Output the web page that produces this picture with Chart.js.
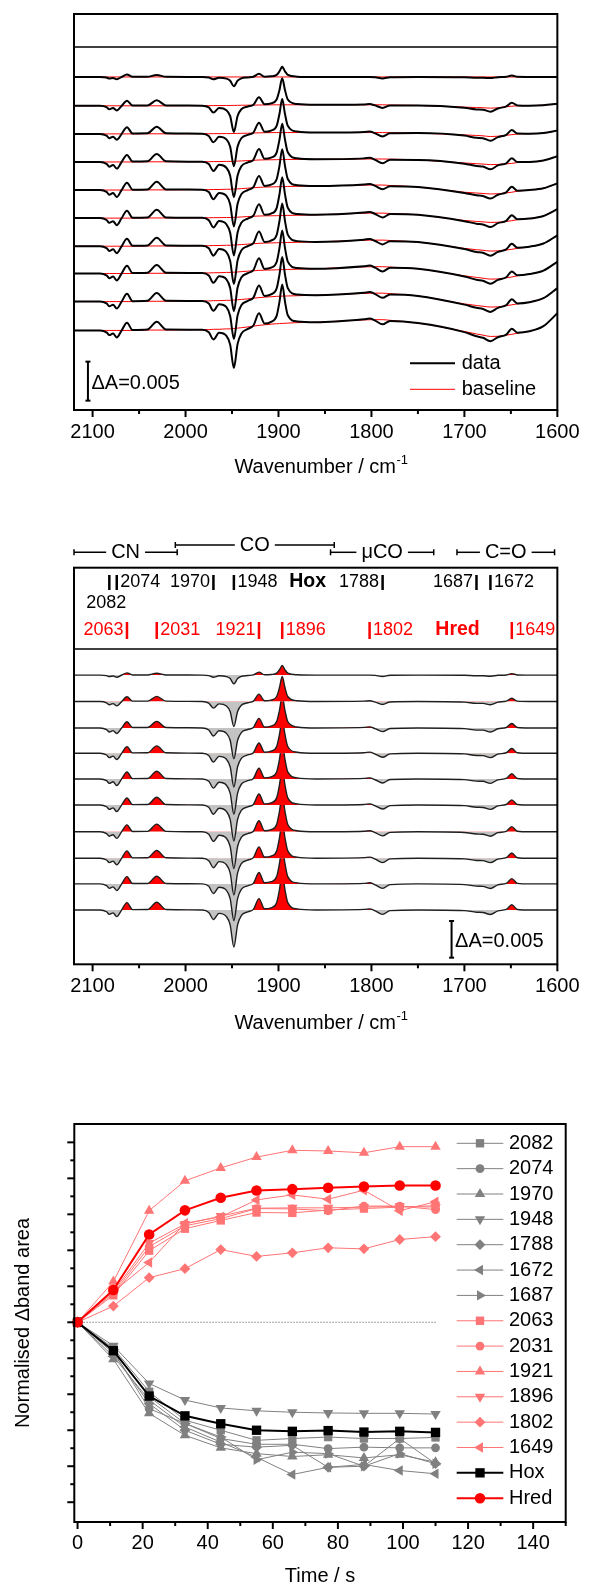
<!DOCTYPE html>
<html>
<head>
<meta charset="utf-8">
<script src="https://cdn.jsdelivr.net/npm/chart.js@4.4.1/dist/chart.umd.min.js"></script>
<style>
  html, body { margin: 0; padding: 0; background: #fff; overflow: hidden; }
  #wrap { position: relative; width: 590px; height: 1588px; }
  canvas { position: absolute; left: 0; }
</style>
</head>
<body>
<div id="wrap">
  <canvas id="cTop" width="590" height="490" style="top:0px"></canvas>
  <canvas id="cMid" width="590" height="540" style="top:500px"></canvas>
  <canvas id="cTime" width="590" height="498" style="top:1090px"></canvas>
</div>
<script>
// ---- Spectra data (wavenumber grid in cm-1, dA in mOD) ----
const wn = [2120, 2092, 2085, 2082, 2078, 2074, 2069, 2063, 2057, 2041, 2031, 2021,
  1982, 1975, 1970, 1964, 1956, 1952, 1948, 1944, 1940, 1933, 1927, 1921, 1915,
  1908, 1902, 1899, 1896, 1893, 1890, 1880, 1860,
  1808, 1802, 1796, 1788, 1780, 1750,
  1700, 1687, 1680, 1672, 1664, 1655, 1649, 1643, 1630, 1615, 1600];

// baseline-corrected difference spectra (middle panel), one per time point
const corr1 = [0, 0, -0.08, -0.2, -0.13, -0.3, -0.02, 0.3, 0.02, 0.02, 0.25, 0.02,
  0, -0.08, -0.3, -0.1, -0.21, -0.48, -1.2, -0.48, -0.18, -0.06, 0.02, 0.4, 0.04,
  0.08, 0.26, 0.72, 1.3, 0.72, 0.26, 0.04, 0,
  0, 0, -0.04, -0.2, -0.03, 0,
  -0.03, -0.1, -0.1, -0.15, -0.03, 0.02, 0.2, 0.02, 0, 0, 0];
const corr2 = [0, 0, -0.18, -0.45, -0.29, -0.6, -0.05, 0.65, 0.05, 0.05, 0.7, 0.05,
  0, -0.22, -0.9, -0.32, -0.6, -1.36, -3.4, -1.36, -0.51, -0.17, 0.05, 1.0, 0.1,
  0.2, 0.68, 1.87, 3.4, 1.87, 0.68, 0.1, 0,
  0.05, 0.1, -0.08, -0.4, -0.06, 0,
  -0.08, -0.25, -0.25, -0.45, -0.09, 0.05, 0.45, 0.05, 0, 0, 0];
const corr3 = [0, 0, -0.22, -0.55, -0.36, -0.75, -0.05, 0.85, 0.05, 0.06, 0.9, 0.06,
  0, -0.28, -1.1, -0.39, -0.74, -1.68, -4.2, -1.68, -0.63, -0.21, 0.06, 1.3, 0.13,
  0.26, 0.86, 2.37, 4.3, 2.37, 0.86, 0.13, 0,
  0.08, 0.15, -0.1, -0.5, -0.08, 0,
  -0.09, -0.3, -0.3, -0.55, -0.11, 0.06, 0.6, 0.06, 0, 0, 0];
const corr4 = [0, 0, -0.24, -0.6, -0.39, -0.85, -0.05, 0.9, 0.05, 0.06, 1.0, 0.06,
  0, -0.3, -1.2, -0.42, -0.81, -1.84, -4.6, -1.84, -0.69, -0.23, 0.07, 1.4, 0.14,
  0.28, 0.92, 2.53, 4.6, 2.53, 0.92, 0.14, 0,
  0.08, 0.15, -0.11, -0.55, -0.08, 0,
  -0.09, -0.3, -0.32, -0.6, -0.12, 0.07, 0.65, 0.07, 0, 0, 0];
const corr5 = [0, 0, -0.24, -0.6, -0.39, -0.9, -0.05, 0.95, 0.05, 0.06, 1.05, 0.06,
  0, -0.31, -1.25, -0.44, -0.85, -1.92, -4.8, -1.92, -0.72, -0.24, 0.07, 1.45, 0.15,
  0.29, 0.96, 2.64, 4.8, 2.64, 0.96, 0.14, 0,
  0.08, 0.15, -0.11, -0.55, -0.08, 0,
  -0.09, -0.3, -0.32, -0.6, -0.12, 0.07, 0.7, 0.07, 0, 0, 0];
const corr6 = [0, 0, -0.24, -0.6, -0.39, -0.9, -0.05, 0.95, 0.05, 0.06, 1.05, 0.06,
  0, -0.31, -1.25, -0.44, -0.87, -1.96, -4.9, -1.96, -0.74, -0.25, 0.08, 1.5, 0.15,
  0.29, 0.98, 2.7, 4.9, 2.7, 0.98, 0.15, 0,
  0.08, 0.15, -0.11, -0.55, -0.08, 0,
  -0.09, -0.3, -0.33, -0.6, -0.12, 0.07, 0.7, 0.07, 0, 0, 0];
const corr7 = [0, 0, -0.24, -0.6, -0.4, -0.9, -0.05, 0.95, 0.05, 0.06, 1.05, 0.06,
  0, -0.33, -1.3, -0.46, -0.88, -2.0, -5.0, -2.0, -0.75, -0.25, 0.08, 1.5, 0.15,
  0.3, 1.0, 2.75, 5.0, 2.75, 1.0, 0.15, 0,
  0.08, 0.15, -0.11, -0.55, -0.08, 0,
  -0.09, -0.3, -0.33, -0.6, -0.12, 0.07, 0.7, 0.07, 0, 0, 0];
const corr8 = [0, 0, -0.24, -0.6, -0.4, -0.9, -0.05, 1.0, 0.05, 0.06, 1.05, 0.06,
  0, -0.33, -1.3, -0.46, -0.88, -2.0, -5.0, -2.0, -0.75, -0.25, 0.08, 1.55, 0.16,
  0.3, 1.0, 2.75, 5.0, 2.75, 1.0, 0.15, 0,
  0.08, 0.15, -0.12, -0.6, -0.09, 0,
  -0.09, -0.3, -0.33, -0.6, -0.12, 0.07, 0.72, 0.07, 0, 0, 0];
const corr9 = [0, 0, -0.24, -0.6, -0.4, -0.9, -0.05, 1.0, 0.05, 0.06, 1.05, 0.06,
  0, -0.33, -1.3, -0.46, -0.88, -2.0, -5.0, -2.0, -0.75, -0.25, 0.08, 1.55, 0.16,
  0.3, 1.0, 2.75, 5.0, 2.75, 1.0, 0.15, 0,
  0.08, 0.15, -0.12, -0.6, -0.09, 0,
  -0.09, -0.3, -0.34, -0.62, -0.12, 0.07, 0.72, 0.07, 0, 0, 0];
const corr10 = [0, 0, -0.24, -0.6, -0.4, -0.9, -0.05, 1.0, 0.05, 0.06, 1.05, 0.06,
  0, -0.33, -1.3, -0.46, -0.9, -2.02, -5.05, -2.02, -0.76, -0.25, 0.08, 1.55, 0.16,
  0.3, 1.0, 2.75, 5.0, 2.75, 1.0, 0.15, 0,
  0.08, 0.15, -0.12, -0.6, -0.09, 0,
  -0.09, -0.3, -0.34, -0.62, -0.12, 0.07, 0.72, 0.07, 0, 0, 0];

// fitted baselines of the raw spectra (top panel, red)
const base1 = [0, 0, 0, 0, 0, 0, 0, 0, 0, 0, 0, 0,
  0, 0, 0, 0, 0, 0, 0, 0, 0, 0, 0, 0, 0,
  0, 0, 0, 0, 0, 0, 0, 0,
  0, 0, 0, 0, 0, 0,
  0, 0, 0, 0, 0, 0, 0, 0, 0, 0, 0];
const base2 = [0, 0, 0, 0, 0, 0, 0, 0, 0, 0, 0, 0,
  0.02, 0.02, 0.03, 0.03, 0.04, 0.04, 0.05, 0.06, 0.07, 0.08, 0.09, 0.1, 0.11,
  0.12, 0.13, 0.13, 0.13, 0.13, 0.13, 0.13, 0.13,
  0.13, 0.13, 0.13, 0.13, 0.1, 0.05,
  -0.17, -0.22, -0.25, -0.3, -0.25, -0.12, -0.05, 0, 0.02, 0.08, 0.26];
const base3 = [0, 0, 0, 0, 0, 0, 0, 0, 0, 0.01, 0.01, 0.01,
  0.02, 0.02, 0.03, 0.03, 0.04, 0.04, 0.05, 0.06, 0.07, 0.09, 0.11, 0.13, 0.15,
  0.16, 0.17, 0.17, 0.17, 0.17, 0.17, 0.17, 0.17,
  0.17, 0.17, 0.17, 0.17, 0.15, 0.1,
  -0.13, -0.2, -0.25, -0.34, -0.3, -0.18, -0.1, -0.02, 0.02, 0.1, 0.43];
const base4 = [0, 0, 0, 0, 0, 0, 0, 0, 0, 0.02, 0.02, 0.02,
  0.03, 0.03, 0.05, 0.05, 0.07, 0.07, 0.09, 0.11, 0.13, 0.18, 0.21, 0.25, 0.27,
  0.28, 0.29, 0.3, 0.31, 0.31, 0.32, 0.33, 0.35,
  0.38, 0.38, 0.38, 0.38, 0.36, 0.26,
  -0.13, -0.22, -0.27, -0.34, -0.32, -0.24, -0.18, -0.08, 0, 0.18, 0.73];
const base5 = [0, 0, 0, 0, 0, 0, 0, 0, 0, 0.02, 0.02, 0.02,
  0.05, 0.05, 0.07, 0.07, 0.1, 0.1, 0.12, 0.15, 0.18, 0.24, 0.3, 0.35, 0.38,
  0.4, 0.42, 0.43, 0.44, 0.45, 0.46, 0.48, 0.52,
  0.63, 0.64, 0.64, 0.64, 0.58, 0.4,
  -0.28, -0.38, -0.44, -0.5, -0.48, -0.36, -0.28, -0.15, 0, 0.22, 0.85];
const base6 = [0, 0, 0, 0, 0, 0, 0, 0, 0, 0.02, 0.02, 0.02,
  0.04, 0.04, 0.06, 0.06, 0.08, 0.08, 0.1, 0.12, 0.15, 0.2, 0.24, 0.27, 0.29,
  0.3, 0.31, 0.32, 0.33, 0.34, 0.35, 0.37, 0.42,
  0.63, 0.64, 0.64, 0.64, 0.6, 0.43,
  -0.3, -0.42, -0.48, -0.55, -0.53, -0.42, -0.33, -0.2, -0.05, 0.28, 1.15];
const base7 = [0, 0, 0, 0, 0, 0, 0, 0, 0, 0.03, 0.03, 0.03,
  0.06, 0.06, 0.09, 0.09, 0.12, 0.12, 0.15, 0.18, 0.21, 0.27, 0.32, 0.37, 0.4,
  0.42, 0.44, 0.45, 0.46, 0.47, 0.48, 0.5, 0.55,
  0.76, 0.77, 0.78, 0.78, 0.73, 0.53,
  -0.28, -0.45, -0.52, -0.62, -0.6, -0.48, -0.4, -0.27, -0.06, 0.34, 1.4];
const base8 = [0, 0, 0, 0, 0, 0, 0, 0, 0, 0.03, 0.03, 0.03,
  0.07, 0.07, 0.1, 0.1, 0.14, 0.14, 0.17, 0.2, 0.24, 0.3, 0.35, 0.4, 0.43,
  0.45, 0.47, 0.48, 0.5, 0.51, 0.52, 0.55, 0.6,
  0.85, 0.86, 0.87, 0.87, 0.82, 0.6,
  -0.3, -0.5, -0.6, -0.72, -0.7, -0.55, -0.45, -0.3, -0.07, 0.37, 1.5];
const base9 = [0, 0, 0, 0, 0, 0, 0, 0, 0, 0.04, 0.04, 0.04,
  0.08, 0.08, 0.12, 0.12, 0.16, 0.16, 0.2, 0.23, 0.27, 0.35, 0.43, 0.51, 0.56,
  0.62, 0.67, 0.68, 0.7, 0.71, 0.72, 0.75, 0.82,
  1.05, 1.07, 1.08, 1.08, 1.01, 0.73,
  -0.3, -0.5, -0.6, -0.7, -0.68, -0.52, -0.42, -0.3, -0.08, 0.43, 1.72];
const base10 = [0, 0, 0, 0, 0, 0, 0, 0, 0, 0.05, 0.05, 0.05,
  0.1, 0.1, 0.15, 0.15, 0.2, 0.2, 0.25, 0.3, 0.35, 0.45, 0.55, 0.65, 0.72,
  0.8, 0.86, 0.88, 0.9, 0.92, 0.94, 1.0, 1.05,
  1.35, 1.37, 1.38, 1.38, 1.3, 0.94,
  -0.13, -0.45, -0.6, -0.77, -0.75, -0.6, -0.5, -0.35, -0.1, 0.55, 2.2];

const corrSpectra = [corr1, corr2, corr3, corr4, corr5, corr6, corr7, corr8, corr9, corr10];
const baselines = [base1, base2, base3, base4, base5, base6, base7, base8, base9, base10];
// vertical stacking of the traces
const topOffsets = [42.7, 39.0, 35.4, 31.8, 28.2, 24.6, 21.0, 17.5, 13.9, 10.2];
const midOffsets = [39.4, 35.8, 32.2, 28.75, 25.25, 21.7, 18.05, 14.45, 10.95, 7.4];

const wnMajor = [2100, 2000, 1900, 1800, 1700, 1600];
const wnMinor = [2050, 1950, 1850, 1750, 1650];

// band assignments
const hoxBands = [2082, 2074, 1970, 1948, 1788, 1687, 1672];
const hredBands = [2063, 2031, 1921, 1896, 1802, 1649];
const groupNames = ['CN', 'CO', 'μCO', 'C=O'];
const groupFrom = [2120, 2011, 1844, 1708];
const groupTo = [2009, 1840, 1733, 1603];

// ---- Kinetics data ----
const timeS = [0, 11, 22, 33, 44, 55, 66, 77, 88, 99, 110];
const area2082 = [0, -0.72, -1.93, -2.72, -3.0, -3.28, -3.23, -3.19, -3.23, -3.23, -3.2];
const area2074 = [0, -0.81, -2.40, -2.81, -3.23, -3.39, -3.39, -3.51, -3.47, -3.49, -3.49];
const area1970 = [0, -1.03, -2.53, -3.14, -3.49, -3.65, -3.73, -3.68, -3.77, -3.68, -3.89];
const area1948 = [0, -0.65, -1.70, -2.16, -2.38, -2.46, -2.50, -2.52, -2.53, -2.53, -2.55];
const area1788 = [0, -0.86, -2.26, -3.0, -3.39, -3.47, -3.42, -4.03, -4.0, -3.23, -3.93];
const area1672 = [0, -0.95, -2.16, -2.91, -3.33, -3.75, -4.23, -4.03, -3.95, -4.12, -4.21];
const area1687 = [0, -0.76, -2.07, -2.81, -3.19, -3.82, -3.61, -3.65, -4.0, -3.65, -3.93];
const area2063 = [0, 0.75, 1.99, 2.6, 2.83, 3.05, 3.04, 3.12, 3.16, 3.2, 3.24];
const area2031 = [0, 0.8, 2.1, 2.68, 2.88, 3.16, 3.15, 3.1, 3.23, 3.23, 3.13];
const area1921 = [0, 1.13, 3.10, 3.93, 4.29, 4.59, 4.78, 4.76, 4.71, 4.88, 4.88];
const area1896 = [0, 0.85, 2.2, 2.73, 2.95, 3.17, 3.18, 3.18, 3.2, 3.22, 3.2];
const area1802 = [0, 0.45, 1.24, 1.49, 2.02, 1.83, 1.93, 2.07, 2.04, 2.30, 2.38];
const area1649 = [0, 0.85, 1.66, 2.75, 2.93, 3.40, 3.54, 3.42, 3.67, 3.10, 3.35];
const areaHox = [0, -0.79, -2.05, -2.60, -2.82, -3.00, -3.03, -3.01, -3.05, -3.03, -3.06];
const areaHred = [0, 0.90, 2.44, 3.11, 3.46, 3.66, 3.70, 3.74, 3.77, 3.80, 3.80];

const seriesLabels = ['2082', '2074', '1970', '1948', '1788', '1672', '1687',
  '2063', '2031', '1921', '1896', '1802', '1649', 'Hox', 'Hred'];
const seriesValues = [area2082, area2074, area1970, area1948, area1788, area1672, area1687,
  area2063, area2031, area1921, area1896, area1802, area1649, areaHox, areaHred];
const timeMajor = [0, 20, 40, 60, 80, 100, 120, 140];
const timeMinor = [10, 30, 50, 70, 90, 110, 130, 150];
const areaMajor = [-5, -4, -3, -2, -1, 0, 1, 2, 3, 4, 5];
const areaMinor = [-4.5, -3.5, -2.5, -1.5, -0.5, 0.5, 1.5, 2.5, 3.5, 4.5];

// ---- styles ----
const FONT = "'Liberation Sans', Arial, sans-serif";
const GREY = '#808080';
const PINK = '#ff7474';
const seriesColor = [GREY, GREY, GREY, GREY, GREY, GREY, GREY,
  PINK, PINK, PINK, PINK, PINK, PINK, '#000000', '#ff0000'];
const seriesShape = ['rect', 'circle', 'triangle', 'triangle', 'rectRot', 'triangle', 'triangle',
  'rect', 'circle', 'triangle', 'triangle', 'rectRot', 'triangle', 'rect', 'circle'];
const seriesRot = [0, 0, 0, 180, 0, 270, 90, 0, 0, 0, 180, 0, 270, 0, 0];
const seriesOrder = [1, 1, 1, 1, 1, 1, 1, 1, 1, 1, 1, 1, 1, -1, -2];
const shapeRadius = { rect: 5.9, circle: 4.4, triangle: 6.0, rectRot: 5.4 };

Chart.defaults.font.family = FONT;
Chart.defaults.color = '#000';

function seg(ctx, x1, y1, x2, y2) {
  ctx.beginPath(); ctx.moveTo(x1, y1); ctx.lineTo(x2, y2); ctx.stroke();
}

function frameTicks(chart, xMaj, xMin, innerVal) {
  const { ctx, chartArea: a, scales } = chart;
  ctx.save();
  ctx.strokeStyle = '#000';
  ctx.lineWidth = 2;
  ctx.strokeRect(a.left, a.top, a.right - a.left, a.bottom - a.top);
  xMaj.forEach(v => { const p = scales.x.getPixelForValue(v); seg(ctx, p, a.bottom, p, a.bottom + 7); });
  xMin.forEach(v => { const p = scales.x.getPixelForValue(v); seg(ctx, p, a.bottom, p, a.bottom + 4); });
  if (innerVal != null) {
    ctx.lineWidth = 1.5;
    const py = scales.y.getPixelForValue(innerVal);
    seg(ctx, a.left, py, a.right, py);
  }
  ctx.restore();
}

function text(ctx, str, x, y, size, align, color, bold) {
  ctx.font = (bold ? 'bold ' : '') + size + 'px ' + FONT;
  ctx.fillStyle = color || '#000';
  ctx.textAlign = align || 'left';
  ctx.textBaseline = 'middle';
  ctx.fillText(str, x, y);
}

function supTitle(ctx, cx, cy, main, sup) {
  ctx.font = '20px ' + FONT;
  const w1 = ctx.measureText(main).width;
  ctx.font = '13px ' + FONT;
  const w2 = ctx.measureText(sup).width;
  const x0 = cx - (w1 + w2) / 2;
  text(ctx, main, x0, cy, 20, 'left');
  text(ctx, sup, x0 + w1 + 0.5, cy - 7, 13, 'left');
}

function scaleBar(chart, wnPos, v0, v1, label) {
  const { ctx, scales } = chart;
  const x = scales.x.getPixelForValue(wnPos);
  const y0 = scales.y.getPixelForValue(v0), y1 = scales.y.getPixelForValue(v1);
  ctx.save();
  ctx.strokeStyle = '#000'; ctx.lineWidth = 2;
  seg(ctx, x, y0, x, y1);
  seg(ctx, x - 2.5, y0, x + 2.5, y0);
  seg(ctx, x - 2.5, y1, x + 2.5, y1);
  text(ctx, label, x + 3.5, (y0 + y1) / 2 + 2.5, 20, 'left');
  ctx.restore();
}

function spectrum(vals, off, extra) {
  return wn.map((w, i) => ({ x: w, y: off + vals[i] + (extra ? extra[i] : 0) }));
}

function xAxis(min, max, reverse, ticksList, height, pad) {
  return {
    type: 'linear', min, max, reverse,
    afterBuildTicks: s => { s.ticks = ticksList.map(v => ({ value: v })); },
    afterFit: s => { s.height = height; },
    grid: { display: false, drawTicks: false },
    border: { display: false },
    ticks: { font: { size: 20, family: FONT }, color: '#000', padding: pad,
      autoSkip: false, maxRotation: 0, callback: v => String(v) }
  };
}

const baseOpts = {
  responsive: false, animation: false, devicePixelRatio: 1, events: [],
  plugins: { legend: { display: false }, tooltip: { enabled: false } }
};

// ---------------- Top panel: raw spectra with baselines ----------------
const topSets = [];
baselines.forEach((b, i) => {
  topSets.push({ data: spectrum(b, topOffsets[i]), borderColor: '#ff0000', borderWidth: 1,
    pointRadius: 0, cubicInterpolationMode: 'monotone', order: 1 });
  topSets.push({ data: spectrum(corrSpectra[i], topOffsets[i], b), borderColor: '#000',
    borderWidth: 2, pointRadius: 0, cubicInterpolationMode: 'monotone', order: 0 });
});

new Chart(document.getElementById('cTop'), {
  type: 'line',
  data: { datasets: topSets },
  options: Object.assign({}, baseOpts, {
    layout: { padding: { left: 74, right: 24, top: 14, bottom: 0 } },
    scales: { x: xAxis(1600, 2120, true, wnMajor, 80, 10.4), y: { display: false, min: 0, max: 50.77 } }
  }),
  plugins: [{
    id: 'decorTop',
    afterDraw(chart) {
      const ctx = chart.ctx;
      frameTicks(chart, wnMajor, wnMinor, 46.54);
      scaleBar(chart, 2105, 1.2, 6.2, 'ΔA=0.005');
      ctx.save();
      ctx.strokeStyle = '#000'; ctx.lineWidth = 2; seg(ctx, 410, 363.3, 455, 363.3);
      ctx.strokeStyle = '#ff0000'; ctx.lineWidth = 1; seg(ctx, 410, 389.3, 455, 389.3);
      text(ctx, 'data', 461.7, 363.3, 20);
      text(ctx, 'baseline', 461.7, 389.3, 20);
      supTitle(ctx, 321, 467, 'Wavenumber / cm', '-1');
      ctx.restore();
    }
  }]
});

// ---------------- Middle panel: baseline-corrected spectra ----------------
const midSets = corrSpectra.map((c, i) => ({
  data: spectrum(c, midOffsets[i]), borderColor: '#1e1e1e', borderWidth: 1.4, pointRadius: 0,
  cubicInterpolationMode: 'monotone',
  fill: { target: { value: midOffsets[i] }, above: '#ff0000', below: '#c3c3c3' }
}));

new Chart(document.getElementById('cMid'), {
  type: 'line',
  data: { datasets: midSets },
  options: Object.assign({}, baseOpts, {
    layout: { padding: { left: 74, right: 24, top: 67.7, bottom: 0 } },
    scales: { x: xAxis(1600, 2120, true, wnMajor, 75.7, 10.4), y: { display: false, min: 0, max: 54.03 } }
  }),
  plugins: [{
    id: 'decorMid',
    afterDraw(chart) {
      const { ctx, scales } = chart;
      const X = v => scales.x.getPixelForValue(v);
      frameTicks(chart, wnMajor, wnMinor, 42.96);
      scaleBar(chart, 1713.8, 0.9, 5.9, 'ΔA=0.005');
      ctx.save();
      ctx.strokeStyle = '#000';
      // group brackets
      const groupY = [52.3, 45, 52.3, 52.3];
      groupNames.forEach((g, i) => {
        const x1 = X(groupFrom[i]), x2 = X(groupTo[i]), y = groupY[i];
        const cx = (x1 + x2) / 2;
        ctx.font = '20px ' + FONT;
        const w = ctx.measureText(g).width;
        ctx.lineWidth = 1.5;
        seg(ctx, x1, y, cx - w / 2 - 5, y);
        seg(ctx, cx + w / 2 + 5, y, x2, y);
        seg(ctx, x1, y - 3, x1, y + 3);
        seg(ctx, x2, y - 3, x2, y + 3);
        text(ctx, g, cx, y, 20, 'center');
      });
      // Hox markers
      const hoxSide = ['below', 'right', 'left', 'right', 'left', 'left', 'right'];
      ctx.lineWidth = 2.5;
      hoxBands.forEach((b, i) => {
        const x = X(b);
        ctx.strokeStyle = '#000';
        seg(ctx, x, 75, x, 90);
        if (hoxSide[i] === 'right') text(ctx, String(b), x + 3.5, 82, 18, 'left');
        else if (hoxSide[i] === 'left') text(ctx, String(b), x - 3.5, 82, 18, 'right');
        else text(ctx, String(b), x - 3, 103.3, 18, 'center');
      });
      text(ctx, 'Hox', X(1868.7), 82, 19.5, 'center', '#000', true);
      // Hred markers
      const hredSide = ['left', 'right', 'left', 'right', 'right', 'right'];
      hredBands.forEach((b, i) => {
        const x = X(b);
        ctx.strokeStyle = '#ff0000';
        seg(ctx, x, 122, x, 139);
        if (hredSide[i] === 'right') text(ctx, String(b), x + 3.5, 130, 18, 'left', '#ff0000');
        else text(ctx, String(b), x - 3.5, 130, 18, 'right', '#ff0000');
      });
      text(ctx, 'Hred', X(1707.4), 130, 19.5, 'center', '#ff0000', true);
      supTitle(ctx, 321, 523, 'Wavenumber / cm', '-1');
      ctx.restore();
    }
  }]
});

// ---------------- Bottom panel: normalised band areas vs time ----------------
const timeSets = seriesValues.map((vals, i) => {
  const isMain = i >= 13;
  const r = isMain ? (seriesShape[i] === 'rect' ? 6.6 : 5.3) : shapeRadius[seriesShape[i]];
  return {
    label: seriesLabels[i],
    data: timeS.map((t, k) => ({ x: t, y: vals[k] })),
    borderColor: seriesColor[i], backgroundColor: seriesColor[i],
    borderWidth: isMain ? 2 : 1,
    pointStyle: seriesShape[i], rotation: seriesRot[i],
    pointRadius: r, pointBorderWidth: 0, pointBackgroundColor: seriesColor[i],
    clip: false, order: seriesOrder[i]
  };
});
timeSets.push({
  label: 'zero', data: [{ x: timeS[0], y: 0 }, { x: timeS[timeS.length - 1], y: 0 }],
  borderColor: '#444', borderWidth: 1, borderDash: [1, 2], pointRadius: 0, order: 5
});

new Chart(document.getElementById('cTime'), {
  type: 'line',
  data: { datasets: timeSets },
  options: Object.assign({}, baseOpts, {
    layout: { padding: { left: 74.3, right: 24.3, top: 34, bottom: 0 } },
    scales: { x: xAxis(-1, 150, false, timeMajor, 66, 9.3), y: { display: false, min: -5.55, max: 5.51 } }
  }),
  plugins: [{
    id: 'decorTime',
    afterDraw(chart) {
      const { ctx, chartArea: a, scales } = chart;
      frameTicks(chart, timeMajor, timeMinor, null);
      ctx.save();
      ctx.strokeStyle = '#000'; ctx.lineWidth = 2;
      areaMajor.forEach(v => { const p = scales.y.getPixelForValue(v); seg(ctx, a.left, p, a.left - 7, p); });
      areaMinor.forEach(v => { const p = scales.y.getPixelForValue(v); seg(ctx, a.left, p, a.left - 4, p); });
      // legend
      timeSets.slice(0, seriesLabels.length).forEach((ds, k) => {
        const y = 53.3 + 25.35 * k;
        ctx.strokeStyle = ds.borderColor; ctx.fillStyle = ds.borderColor;
        ctx.lineWidth = ds.borderWidth;
        seg(ctx, 456.7, y, 503.3, y);
        Chart.helpers.drawPoint(ctx, { pointStyle: ds.pointStyle, rotation: ds.rotation,
          radius: ds.pointRadius, borderWidth: 0 }, 480, y);
        text(ctx, ds.label, 509, y, 20, 'left');
      });
      text(ctx, 'Time / s', 320, 486.7, 20, 'center');
      ctx.translate(23, 233);
      ctx.rotate(-Math.PI / 2);
      text(ctx, 'Normalised Δband area', 0, 0, 20, 'center');
      ctx.restore();
    }
  }]
});
</script>
</body>
</html>
